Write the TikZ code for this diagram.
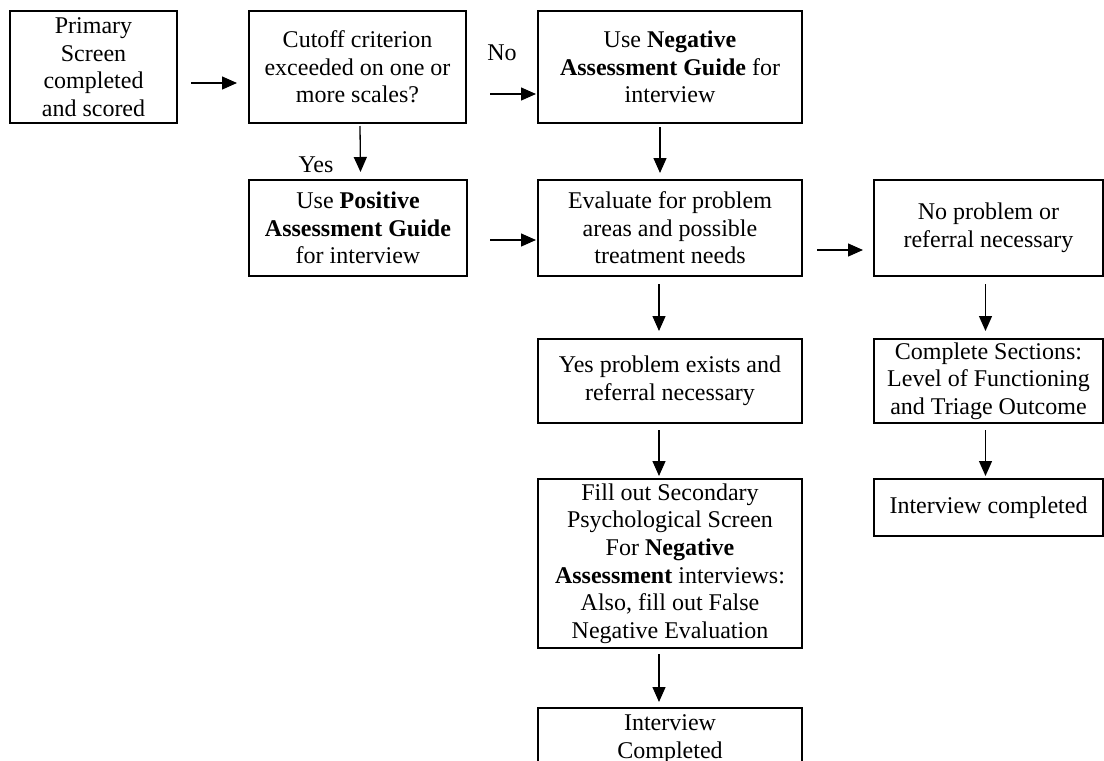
\documentclass[tikz,border=0pt]{standalone}
\usepackage{fontspec}
\setmainfont{Liberation Serif}
\usetikzlibrary{arrows.meta}
\begin{document}
\begin{tikzpicture}[x=0.5pt,y=-0.5pt,
  box/.style={draw, line width=1pt, rectangle, inner sep=0pt, align=center,
    font=\fontsize{12pt}{13.8pt}\selectfont},
  lbl/.style={inner sep=0pt, font=\fontsize{12pt}{13.8pt}\selectfont},
  arr/.style={line width=0.65pt, -{Triangle[length=7.5pt,width=6.5pt]}}]
\useasboundingbox (0,0) rectangle (1104,761);
% boxes
\node[box, minimum width=83.5pt, minimum height=56pt] (b1) at (93.5,67)
  {Primary\\Screen\\completed\\and scored};
\node[box, minimum width=108.5pt, minimum height=56pt] (b2) at (357.5,67)
  {Cutoff criterion\\exceeded on one or\\more scales?};
\node[box, minimum width=132pt, minimum height=56pt] (b3) at (670,67)
  {Use \textbf{Negative}\\\textbf{Assessment Guide} for\\interview};
\node[box, minimum width=109pt, minimum height=48pt] (pos) at (358,228)
  {Use \textbf{Positive}\\\textbf{Assessment Guide}\\for interview};
\node[box, minimum width=132pt, minimum height=48pt] (eval) at (670,228)
  {Evaluate for problem\\areas and possible\\treatment needs};
\node[box, minimum width=114.5pt, minimum height=48pt] (np) at (988.5,228)
  {No problem or\\referral necessary};
\node[box, minimum width=132pt, minimum height=42pt] (yes) at (670,381)
  {Yes problem exists and\\referral necessary};
\node[box, minimum width=114.5pt, minimum height=42pt] (comp) at (988.5,381)
  {Complete Sections:\\Level of Functioning\\and Triage Outcome};
\node[box, minimum width=132pt, minimum height=84.5pt] (fill) at (670,563.5)
  {Fill out Secondary\\Psychological Screen\\For \textbf{Negative}\\\textbf{Assessment} interviews:\\Also, fill out False\\Negative Evaluation};
\node[box, minimum width=114.5pt, minimum height=28.5pt] (intc) at (988.5,507.5)
  {Interview completed};
\node[box, minimum width=132pt, minimum height=31pt] (final) at (670,739)
  {Interview\\Completed};
% labels
\node[lbl] (no) at (502,53) {No};
\node[lbl] (yeslbl) at (316,165) {Yes};
% connectors
\draw[arr] ([shift={(13,16)}]b1.east) -- ([shift={(-11,16)}]b2.west);
\draw[arr] ([shift={(23,27)}]b2.east) -- ([shift={(-1,27)}]b3.west);
\draw[arr] ([shift={(22,12)}]pos.east) -- ([shift={(-1,12)}]eval.west);
\draw[arr] ([shift={(14,22)}]eval.east) -- ([shift={(-10,22)}]np.west);
\draw[arr] ([shift={(2.5,2)}]b2.south) -- ([shift={(2.5,-7)}]pos.north);
\draw[arr] ([shift={(-10,3)}]b3.south) -- ([shift={(-10,-6)}]eval.north);
\draw[arr] ([shift={(-11,7)}]eval.south) -- ([shift={(-11,-7)}]yes.north);
\draw[arr] ([shift={(-11,6)}]yes.south) -- ([shift={(-11,-2)}]fill.north);
\draw[arr] ([shift={(-11,5)}]fill.south) -- ([shift={(-11,-5)}]final.north);
\draw[arr] ([shift={(-3,7)}]np.south) -- ([shift={(-3,-7)}]comp.north);
\draw[arr] ([shift={(-3,6)}]comp.south) -- ([shift={(-3,-2)}]intc.north);
\end{tikzpicture}
\end{document}
